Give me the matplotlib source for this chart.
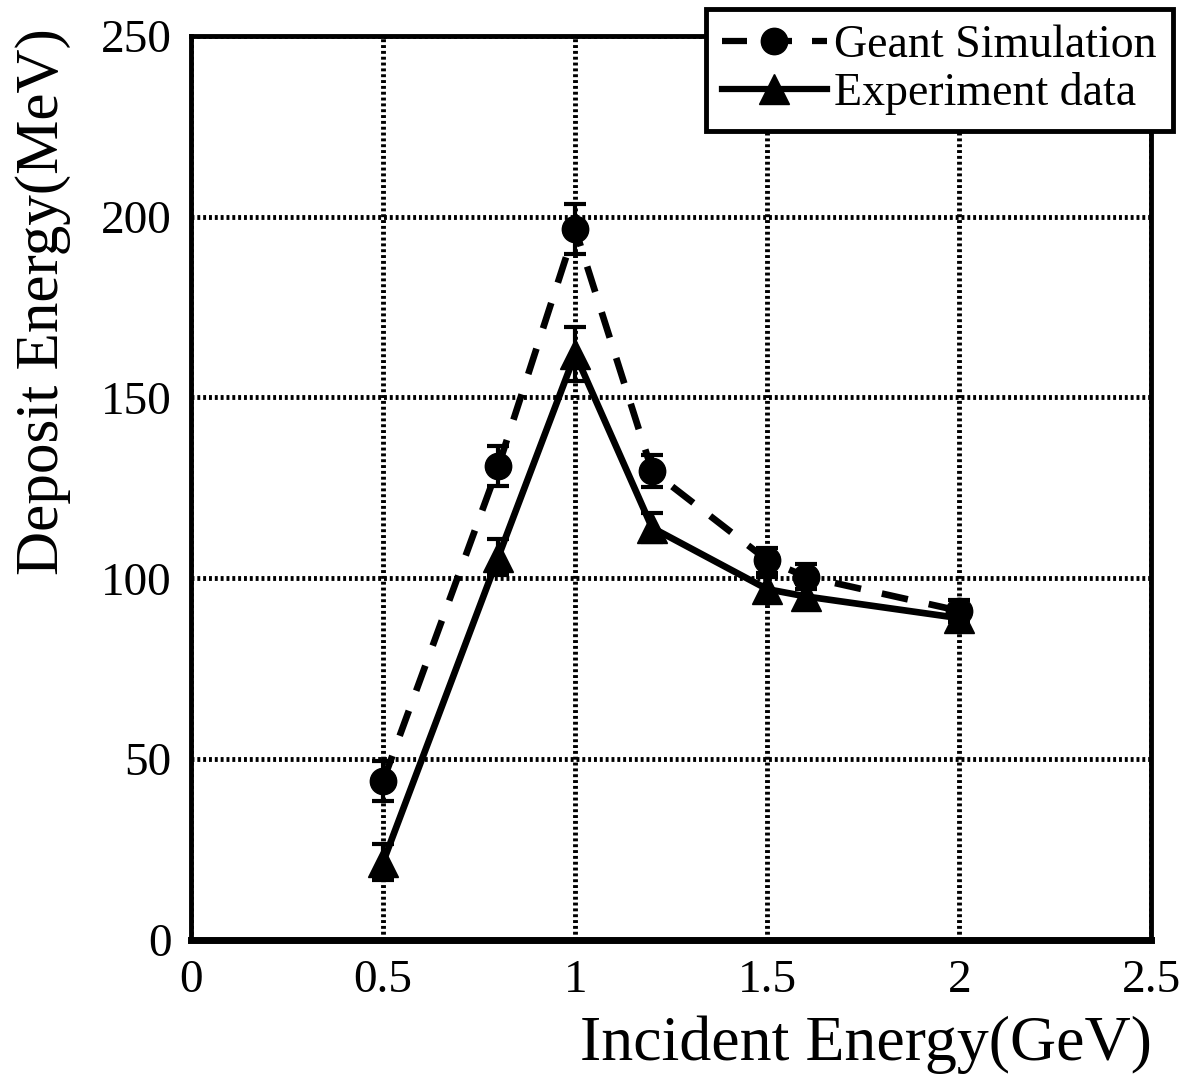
import matplotlib
matplotlib.use("Agg")
import matplotlib.pyplot as plt
from matplotlib.lines import Line2D

incident = [0.5, 0.8, 1.0, 1.2, 1.5, 1.6, 2.0]
geant = [44.0, 131.0, 196.6, 129.7, 105.0, 100.5, 91.0]
geant_err = [5.5, 5.5, 7.0, 4.5, 3.5, 3.5, 3.0]
experiment = [21.6, 106.0, 162.0, 114.0, 97.0, 95.0, 89.0]
experiment_err = [5.0, 5.0, 7.5, 4.0, 3.5, 3.5, 3.0]
xticks = [0, 0.5, 1, 1.5, 2, 2.5]
xticklabels = ["0", "0.5", "1", "1.5", "2", "2.5"]
yticks = [0, 50, 100, 150, 200, 250]
labels = ['Geant Simulation', 'Experiment data']

plt.rcParams['font.family'] = ['Liberation Serif', 'DejaVu Serif']

fig = plt.figure(figsize=(11.87, 10.83), dpi=100)
ax = fig.add_axes([0.161, 0.132, 0.809, 0.835])

dash = (0, (4, 3.2))
ax.errorbar(incident, geant, yerr=geant_err, color='black', lw=4.8,
            linestyle=dash, marker='o', markersize=19,
            capsize=8, capthick=3, elinewidth=3, zorder=4)
ax.errorbar(incident, experiment, yerr=experiment_err, color='black', lw=4.8,
            linestyle='-', marker='^', markersize=21,
            capsize=8, capthick=3, elinewidth=3, zorder=5)

ax.set_xlim(0, 2.5)
ax.set_ylim(0, 250)
ax.set_xticks(xticks)
ax.set_xticklabels(xticklabels)
ax.set_yticks(yticks)
ax.tick_params(length=0, labelsize=34, pad=14)
ax.grid(True, color='black', linestyle=(0, (0.6, 0.6)), linewidth=3.5)
ax.set_axisbelow(True)
for s in ax.spines.values():
    s.set_linewidth(3.5)
ax.spines['bottom'].set_linewidth(5)

ax.set_xlabel('Incident Energy(GeV)', fontsize=46, loc='right', labelpad=10)
ax.set_ylabel('Deposit Energy(MeV)', fontsize=44, loc='top')
ax.yaxis.set_label_coords(-0.125, 1.008)

handles = [
    Line2D([], [], color='black', lw=4.5, linestyle=dash, marker='o', markersize=19),
    Line2D([], [], color='black', lw=4.5, linestyle='-', marker='^', markersize=21),
]
leg = ax.legend(handles, labels, loc='upper right', bbox_to_anchor=(1.022, 1.03),
                fontsize=33, frameon=True, fancybox=False, edgecolor='black',
                handlelength=2.3, handletextpad=0.15, borderpad=0.35,
                labelspacing=0.1, borderaxespad=0)
leg.get_frame().set_linewidth(3.5)
leg.get_frame().set_alpha(1)
leg.set_zorder(10)

fig.savefig('out.png', dpi=100)
